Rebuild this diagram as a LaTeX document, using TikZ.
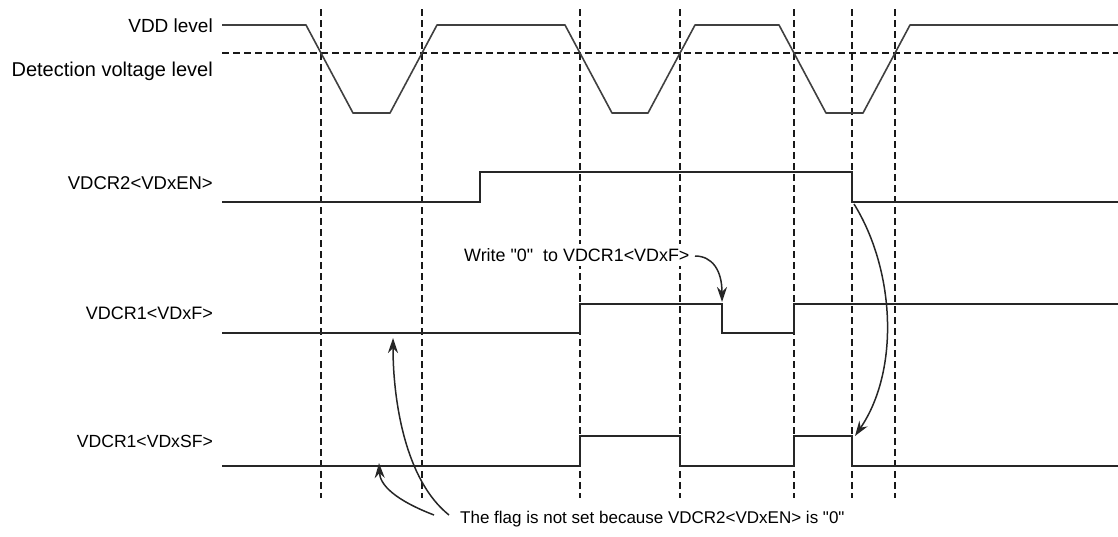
\documentclass[tikz,border=0pt]{standalone}
\usepackage{fontspec}
\setmainfont{Liberation Sans}[Ligatures=TeXOff]
\usetikzlibrary{arrows.meta}
\begin{document}
\begin{tikzpicture}[x=1pt,y=-1pt,
  lbl/.style={anchor=east,inner sep=0pt},
  txt/.style={anchor=west,inner sep=0pt},
  sig/.style={line width=2.3pt,color=black!85,line join=miter},
  vdd/.style={line width=1.6pt,color=black!75,line join=round},
  grid/.style={line width=1.8pt,dash pattern=on 7pt off 4pt,color=black!90},
  note/.style={line width=1.5pt,color=black!85,-{Stealth[length=15pt,width=10pt]}}]
\useasboundingbox (0,0) rectangle (1118,536);
% labels
\node[lbl,font=\fontsize{19}{22}\selectfont] (lvdd) at (213,26) {VDD level};
\node[lbl,font=\fontsize{20}{22}\selectfont] (ldet) at (213,71) {Detection voltage level};
\node[lbl,font=\fontsize{18.5}{22}\selectfont] (len) at (213,183) {VDCR2<VDxEN>};
\node[lbl,font=\fontsize{18}{20}\selectfont] (lf) at (213,313) {VDCR1<VDxF>};
\node[lbl,font=\fontsize{17.6}{20}\selectfont] (lsf) at (213,441) {VDCR1<VDxSF>};
\node[txt,font=\fontsize{17}{20}\selectfont] (fl) at (460,519) {The flag is not set because VDCR2<VDxEN> is "0"};
% grid lines
\foreach \x in {321,422,580,680,794,852,895}
  \draw[grid] (\x,9) -- (\x,498);
\draw[grid] (222,53) -- (1118,53);
\node[txt,fill=white,inner xsep=1pt,inner ysep=4pt,font=\fontsize{17.9}{20}\selectfont] (wr) at (463,255) {Write "0"\ \ to VDCR1<VDxF>};
% VDD waveform
\draw[vdd] (222,25) -- (306,25) -- (353,113) -- (390,113) -- (437,25)
  -- (565,25) -- (612,113) -- (648,113) -- (695,25)
  -- (779,25) -- (826,113) -- (863,113) -- (910,25) -- (1118,25);
% VDxEN
\draw[sig] (222,202) -- (480,202) -- (480,172) -- (852,172) -- (852,202) -- (1118,202);
% VDxF
\draw[sig] (222,333) -- (580,333) -- (580,304) -- (722,304) -- (722,333) -- (794,333) -- (794,304) -- (1118,304);
% VDxSF
\draw[sig] (222,466) -- (580,466) -- (580,436) -- (680,436) -- (680,466) -- (794,466) -- (794,436) -- (852,436) -- (852,466) -- (1118,466);
% annotation arrows
\coordinate (wrs) at (695,256);
\coordinate (wrt) at (722,302);
\draw[note] (wrs) .. controls (712,256) and (722,270) .. (wrt);
\coordinate (ens) at (854,204);
\coordinate (ent) at (855,436);
\draw[note] (ens) .. controls (895,270) and (900,370) .. (ent);
\coordinate (f1s) at (449,515);
\coordinate (f1t) at (393,338);
\draw[note] (f1s) .. controls (405,480) and (393,400) .. (f1t);
\coordinate (f2s) at (434,515);
\coordinate (f2t) at (379,463);
\draw[note] (f2s) .. controls (395,500) and (380,485) .. (f2t);
\end{tikzpicture}
\end{document}
